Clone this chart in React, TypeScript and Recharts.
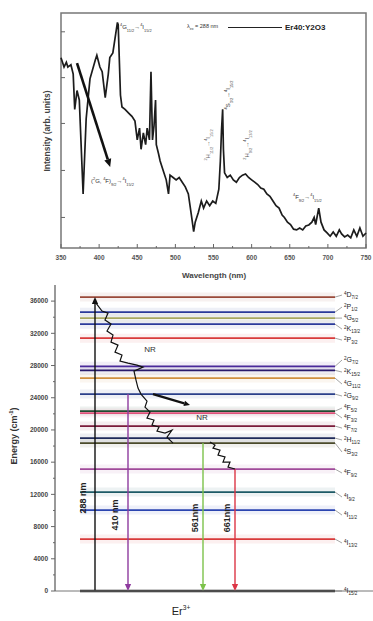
import React from "react";
import {
  LineChart,
  Line,
  XAxis,
  YAxis,
  ReferenceLine,
  ReferenceArea,
  ReferenceDot,
} from "recharts";

const FONT = "'Liberation Sans', Arial, sans-serif";
const TEXT = "#333";

// ---- spectrum (top panel) ----
const wavelength = [
  350, 354, 357, 359, 363, 366, 368, 371, 374, 379,
  383, 388, 395, 397, 401, 404, 408, 412, 414, 418,
  424, 425, 428, 430, 434, 440, 443, 447, 450, 453,
  455, 458, 461, 463, 466, 468, 470, 472, 474, 475,
  478, 480, 484, 488, 491, 493, 497, 501, 505, 509,
  513, 517, 521, 524, 526, 530, 534, 537, 541, 545,
  549, 553, 557, 559, 560.5, 562, 563, 564.5, 568, 572,
  576, 580, 584, 588, 592, 596, 600, 604, 608, 612,
  616, 620, 624, 628, 632, 636, 640, 643, 647, 651,
  655, 659, 663, 667, 671, 675, 679, 682, 684, 688,
  691, 695, 699, 703, 707, 711, 715, 718, 722, 726,
  730, 734, 738, 742, 746, 750,
];
const intensity = [
  81, 77, 79, 77, 78, 74, 59, 67, 63, 23,
  55, 72, 80, 82, 77, 75, 64, 74, 81, 83,
  96, 95, 65, 60, 59, 57, 56, 54, 46, 51,
  42, 49, 44, 51, 46, 75, 46, 52, 63, 44,
  40, 37, 33, 29, 23, 31, 30, 29, 30, 28,
  26, 23, 14, 7, 11, 15, 20, 17, 20, 18,
  20, 19, 25, 37, 50, 59, 42, 32, 30, 31,
  29, 28, 30, 31, 31.5, 30, 29, 28, 27, 25.5,
  25, 23, 22, 20, 18, 17, 14, 13, 11, 10,
  8, 7.7, 8.5, 7.7, 9.4, 9.8, 11, 13, 10, 17,
  11, 7.7, 6.4, 5, 6.8, 5, 7.7, 6, 4.7, 5.5,
  4.3, 7.7, 5, 8.5, 5, 6.4,
];
const spectrum = wavelength.map((w, i) => ({ w, v: intensity[i] }));

const wlTicks = [350, 375, 400, 425, 450, 475, 500, 525, 550, 575, 600, 625, 650, 675, 700, 725, 750];
const intTicks = [13, 33, 53, 72.5, 92];

// ---- energy level diagram (bottom panel) ----
const levelName = [
  "4I15/2", "4I13/2", "4I11/2", "4I9/2", "4F9/2", "4S3/2", "2H11/2", "4F7/2", "4F3/2", "4F5/2",
  "2G9/2", "4G11/2", "2K15/2", "2G7/2", "2P3/2", "2K13/2", "4G5/2", "2P1/2", "4D7/2",
];
const levelEnergy = [
  0, 6450, 10050, 12290, 15140, 18370, 18990, 20480, 22100, 22345,
  24450, 26440, 27400, 27900, 31400, 33140, 33890, 34630, 36500,
];
const levelColor = [
  "#222222", "#d83a3a", "#2b45b0", "#1d5a66", "#a04a9a", "#4a4a2a", "#1f2a5a", "#7a1a3a", "#e0507a", "#1f4a2f",
  "#2a3f8a", "#d09040", "#2a1a6a", "#4a2a9a", "#d83a3a", "#2a3a9a", "#a8a860", "#2a3a9a", "#9a4a3a",
];
const labelEnergy = [
  0, 5960, 9430, 11670, 14650, 17260, 18750, 20230, 21480, 22720,
  24210, 25700, 27190, 28680, 31160, 32520, 33890, 35260, 36750,
];
const energyTicks = [
  0, 2000, 4000, 6000, 8000, 10000, 12000, 14000, 16000, 18000,
  20000, 22000, 24000, 26000, 28000, 30000, 32000, 34000, 36000,
];

const transName = ["288 nm", "410 nm", "561nm", "661nm"];
const transPos = [40, 73, 148, 180];
const transFrom = [0, 24450, 18370, 15140];
const transTo = [36500, 0, 0, 0];
const transColor = ["#111111", "#8e3b9e", "#7cc24a", "#dc3545"];

const nr1Pos = [41, 47, 53, 50, 56, 52, 58, 56, 63, 60, 67, 65, 73, 82, 88, 79, 81, 83, 86, 92, 90, 95, 92, 99, 97, 104, 102, 110, 117, 112, 118];
const nr1E = [
  35750, 34760, 34510, 33640, 33150, 32280, 31780, 30910, 30540, 29670, 29300, 28550, 28300, 28050, 27810, 27310,
  26190, 25200, 24450, 23580, 22840, 22220, 21480, 21230, 20610, 20360, 19860, 19610, 19980, 19110, 18370,
];
const nr2Pos = [155, 160, 158, 165, 163, 170, 168, 175, 173, 180];
const nr2E = [18500, 18120, 17750, 17500, 16880, 16640, 16010, 16010, 15390, 15150];
const nr1 = nr1Pos.map((p, i) => ({ p, e: nr1E[i] }));
const nr2 = nr2Pos.map((p, i) => ({ p, e: nr2E[i] }));

function arrowShape(color: string, width: number, head: number) {
  return (props: any) => {
    const { x1, y1, x2, y2 } = props;
    const dx = x2 - x1;
    const dy = y2 - y1;
    const len = Math.hypot(dx, dy) || 1;
    const ux = dx / len;
    const uy = dy / len;
    const bx = x2 - ux * head;
    const by = y2 - uy * head;
    const hw = head * 0.45;
    const pts = `${x2},${y2} ${bx - uy * hw},${by + ux * hw} ${bx + uy * hw},${by - ux * hw}`;
    return (
      <g>
        <line x1={x1} y1={y1} x2={bx} y2={by} stroke={color} strokeWidth={width} />
        <polygon points={pts} fill={color} />
      </g>
    );
  };
}

const WlTick = (props: any) => {
  const { x, y, payload } = props;
  const major = payload.value % 50 === 0;
  return (
    <g>
      <line x1={x} y1={y} x2={x} y2={y - (major ? 4 : 2)} stroke="#666" />
      {major && (
        <text x={x} y={y + 12} textAnchor="middle" fontSize={6.5} fontWeight={700} fill="#555" fontFamily={FONT}>
          {payload.value}
        </text>
      )}
    </g>
  );
};

const IntTick = (props: any) => {
  const { x, y } = props;
  return <line x1={x} y1={y} x2={x + 4} y2={y} stroke="#666" />;
};

const ETick = (props: any) => {
  const { x, y, payload } = props;
  const major = payload.value % 4000 === 0;
  return (
    <g>
      <line x1={x} y1={y} x2={x - (major ? 4 : 2)} y2={y} stroke="#666" />
      {major && (
        <text x={x - 7} y={y + 2.3} textAnchor="end" fontSize={6.5} fontWeight={700} fill="#444" fontFamily={FONT}>
          {payload.value}
        </text>
      )}
    </g>
  );
};

function termLabel(name: string) {
  return (props: any) => {
    const { cx, cy } = props;
    const s = 7;
    return (
      <text x={cx} y={cy + 2} fontSize={s} fill="#222" fontFamily={FONT}>
        <tspan fontSize={s * 0.65} dy={-s * 0.35}>{name[0]}</tspan>
        <tspan dy={s * 0.35}>{name[1]}</tspan>
        <tspan fontSize={s * 0.65} dy={s * 0.3}>{name.slice(2)}</tspan>
      </text>
    );
  };
}

function Term({ n }: { n: string }) {
  return (
    <span>
      <sup style={{ fontSize: "0.65em" }}>{n[0]}</sup>
      {n[1]}
      <sub style={{ fontSize: "0.65em" }}>{n.slice(2)}</sub>
    </span>
  );
}

function Txt(props: {
  x: number;
  y: number;
  size: number;
  rot?: number;
  bold?: boolean;
  left?: boolean;
  color?: string;
  children: React.ReactNode;
}) {
  const { x, y, size, rot = 0, bold, left, color = TEXT, children } = props;
  return (
    <div
      style={{
        position: "absolute",
        left: x,
        top: y,
        transform: `translate(${left ? "0" : "-50%"}, -50%) rotate(${rot}deg)`,
        transformOrigin: left ? "0 50%" : "50% 50%",
        fontSize: size,
        fontWeight: bold ? 700 : 400,
        color,
        whiteSpace: "nowrap",
        lineHeight: 1,
        fontFamily: FONT,
      }}
    >
      {children}
    </div>
  );
}

export default function App() {
  return (
    <div style={{ position: "fixed", left: 0, top: 0, width: 373, height: 621, background: "#fff", overflow: "hidden" }}>
      <div style={{ position: "absolute", left: 0, top: 0 }}>
        <LineChart width={373} height={280} data={spectrum} margin={{ top: 13, right: 7, bottom: 0, left: 56 }}>
          <XAxis
            type="number"
            dataKey="w"
            domain={[350, 750]}
            ticks={wlTicks}
            height={32}
            tickSize={0}
            tickMargin={0}
            axisLine={false}
            tick={<WlTick />}
            interval={0}
          />
          <YAxis
            type="number"
            domain={[0, 100]}
            ticks={intTicks}
            width={5}
            tickSize={0}
            tickMargin={0}
            axisLine={false}
            tick={<IntTick />}
            interval={0}
          />
          <ReferenceArea x1={350} x2={750} y1={0} y2={100} fill="#fff" fillOpacity={0} stroke="#777" strokeWidth={1.5} />
          <Line type="linear" dataKey="v" stroke="#1c1c1c" strokeWidth={1.7} dot={false} isAnimationActive={false} />
          <ReferenceLine
            segment={[{ x: 371, y: 78.7 }, { x: 414.5, y: 34.5 }]}
            shape={arrowShape("#111", 2.6, 8)}
          />
        </LineChart>
      </div>

      <div style={{ position: "absolute", left: 0, top: 280 }}>
        <LineChart width={373} height={341} margin={{ top: 5, right: 0, bottom: 0, left: 5 }}>
          <XAxis type="number" dataKey="p" domain={[0, 318]} height={30} tick={false} tickLine={false} axisLine={{ stroke: "#777" }} />
          <YAxis
            type="number"
            dataKey="e"
            domain={[0, 38000]}
            ticks={energyTicks}
            width={50}
            tickSize={0}
            tickMargin={0}
            interval={0}
            axisLine={{ stroke: "#555", strokeWidth: 1.2 }}
            tick={<ETick />}
          />
          {levelEnergy.map((e, i) =>
            i === 0 ? null : (
              <ReferenceLine
                key={"b" + i}
                segment={[{ x: 25, y: e }, { x: 280, y: e }]}
                stroke={levelColor[i]}
                strokeOpacity={0.08}
                strokeWidth={9}
              />
            )
          )}
          {levelEnergy.map((e, i) => (
            <ReferenceLine
              key={"l" + i}
              segment={[{ x: 25, y: e }, { x: 280, y: e }]}
              stroke={levelColor[i]}
              strokeWidth={i === 0 ? 2.4 : 1.8}
            />
          ))}
          {levelEnergy.map((e, i) => (
            <ReferenceLine
              key={"k" + i}
              segment={[{ x: 280, y: e }, { x: 287, y: labelEnergy[i] }]}
              stroke="#666"
              strokeWidth={0.6}
            />
          ))}
          {levelName.map((n, i) => (
            <ReferenceDot key={"t" + i} x={289} y={labelEnergy[i]} r={0} shape={termLabel(n)} />
          ))}
          {transPos.map((p, i) => (
            <ReferenceLine
              key={"a" + i}
              segment={[{ x: p, y: transFrom[i] }, { x: p, y: transTo[i] }]}
              shape={arrowShape(transColor[i], 1.4, 7)}
            />
          ))}
          <Line data={nr1} dataKey="e" type="linear" stroke="#111" strokeWidth={1.2} dot={false} isAnimationActive={false} />
          <Line data={nr2} dataKey="e" type="linear" stroke="#111" strokeWidth={1.2} dot={false} isAnimationActive={false} />
          <ReferenceLine segment={[{ x: 98, y: 24450 }, { x: 135, y: 23090 }]} shape={arrowShape("#111", 2.2, 6)} />
        </LineChart>
      </div>

      {/* top panel texts */}
      <Txt x={47} y={131} size={8.5} rot={-90} bold color="#444">Intensity (arb. units)</Txt>
      <Txt x={214} y={276} size={8} bold color="#444">Wavelength (nm)</Txt>
      <Txt x={120} y={28} size={6} left>
        <Term n="4G11/2" />→<Term n="4I15/2" />
      </Txt>
      <Txt x={187} y={28} size={5.5} left>
        λ<sub style={{ fontSize: "0.65em" }}>ex</sub> = 288 nm
      </Txt>
      <div style={{ position: "absolute", left: 228, top: 27, width: 54, height: 0, borderTop: "1.5px solid #222" }} />
      <Txt x={285} y={28} size={8} bold color="#222" left>Er40:Y2O3</Txt>
      <Txt x={91} y={182} size={6} left>
        (<Term n="2G" />, <Term n="4F" />)<sub style={{ fontSize: "0.65em" }}>9/2</sub>→<Term n="4I15/2" />
      </Txt>
      <Txt x={229} y={95} size={6} rot={-90}>
        <Term n="4S3/2" />→<Term n="4I15/2" />
      </Txt>
      <Txt x={209} y={145} size={6} rot={-90} color="#666">
        <Term n="2H11/2" />→<Term n="4I15/2" />
      </Txt>
      <Txt x={248} y={145} size={6} rot={-90} color="#555">
        <Term n="2H9/2" />→<Term n="4I13/2" />
      </Txt>
      <Txt x={293} y={198} size={6} left>
        <Term n="4F9/2" />→<Term n="4I15/2" />
      </Txt>

      {/* bottom panel texts */}
      <Txt x={14} y={436} size={9} rot={-90} bold color="#333">
        Energy (cm<sup style={{ fontSize: "0.65em" }}>-1</sup>)
      </Txt>
      <Txt x={181} y={611} size={11} color="#222">
        Er<sup style={{ fontSize: "0.6em" }}>3+</sup>
      </Txt>
      <Txt x={150} y={350} size={8} color="#333">NR</Txt>
      <Txt x={202} y={418} size={8} color="#333">NR</Txt>
      {transName.map((t, i) => (
        <Txt key={t} x={[83, 115, 195, 227][i]} y={[498, 515, 518, 518][i]} size={9} rot={-90} bold color="#222">
          {t}
        </Txt>
      ))}
    </div>
  );
}
